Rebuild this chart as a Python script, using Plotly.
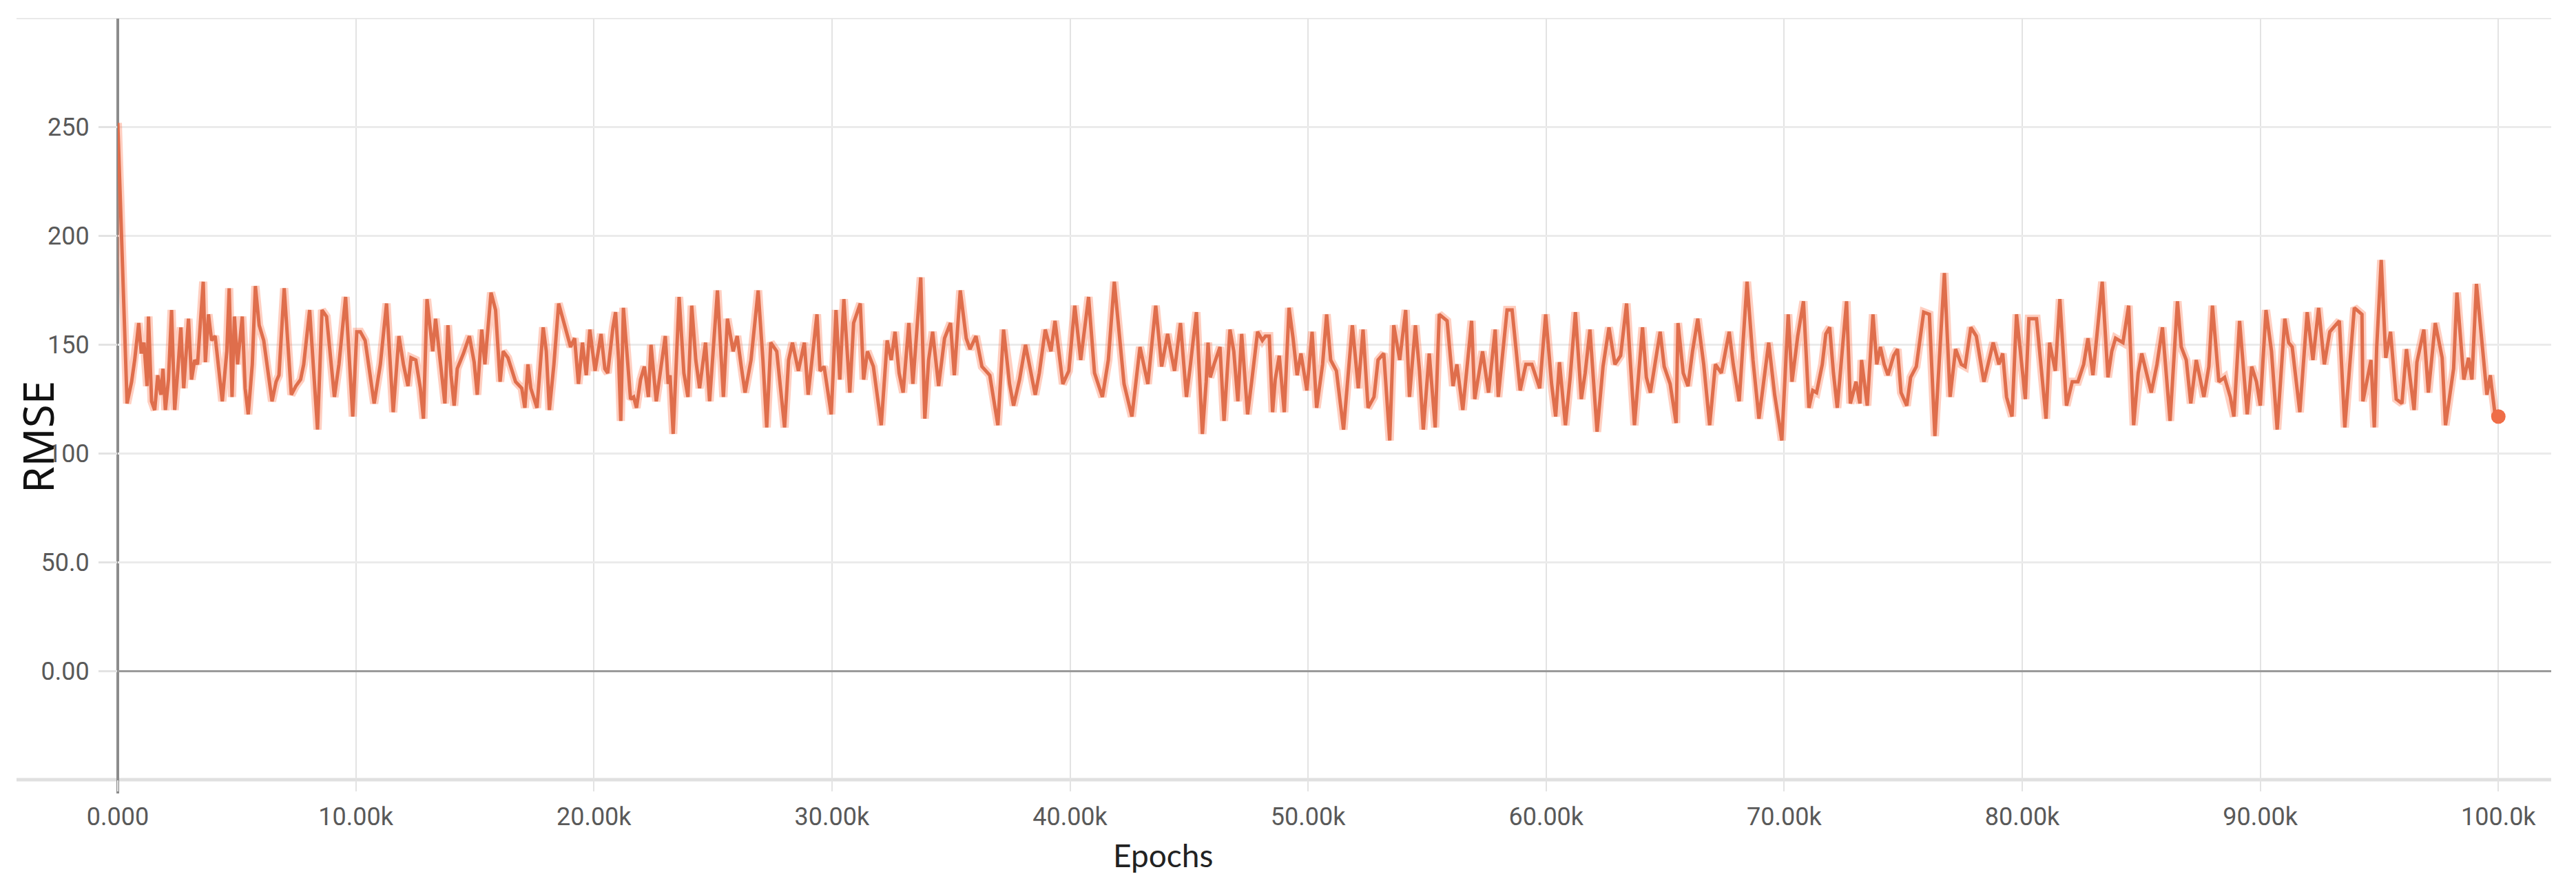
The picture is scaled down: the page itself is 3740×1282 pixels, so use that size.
import plotly.graph_objects as go

# epochs in thousands
epoch_k = [
    0.00, 0.39, 0.58, 0.71, 0.88, 0.99, 1.10, 1.23, 1.29, 1.42,
    1.55, 1.68, 1.81, 1.90, 2.00, 2.13, 2.26, 2.39, 2.52, 2.65,
    2.77, 2.97, 3.10, 3.23, 3.35, 3.59, 3.68, 3.81, 3.94, 4.09,
    4.39, 4.58, 4.68, 4.80, 4.90, 5.03, 5.23, 5.35, 5.48, 5.65,
    5.78, 5.94, 6.13, 6.26, 6.48, 6.65, 6.77, 6.99, 7.16, 7.29,
    7.48, 7.68, 7.81, 8.06, 8.39, 8.58, 8.77, 8.97, 9.10, 9.29,
    9.57, 9.74, 9.87, 10.04, 10.19, 10.39, 10.77, 11.03, 11.29, 11.57,
    11.81, 12.00, 12.19, 12.32, 12.52, 12.71, 12.84, 12.99, 13.23, 13.35,
    13.55, 13.74, 13.87, 14.00, 14.13, 14.26, 14.52, 14.77, 14.97, 15.10,
    15.29, 15.42, 15.68, 15.87, 16.06, 16.19, 16.39, 16.58, 16.71, 16.97,
    17.10, 17.23, 17.35, 17.61, 17.87, 18.00, 18.13, 18.32, 18.52,
    19.02, 19.19, 19.35, 19.52, 19.68, 19.83, 20.05, 20.30, 20.46, 20.58,
    20.80, 20.91, 21.04, 21.13, 21.24, 21.41, 21.54, 21.67, 21.79, 21.96,
    22.12, 22.29, 22.40, 22.62, 22.84, 23.00, 23.12, 23.20, 23.33, 23.58,
    23.78, 23.95, 24.11, 24.28, 24.44, 24.69, 24.86, 25.19, 25.44, 25.61,
    25.85, 26.02, 26.19, 26.35, 26.60, 26.90, 27.10, 27.26, 27.43, 27.68,
    28.01, 28.18, 28.34, 28.59, 28.84, 29.00, 29.37, 29.50, 29.67, 29.97,
    30.17, 30.33, 30.50, 30.75, 30.91, 31.19, 31.33, 31.49, 31.74, 32.07,
    32.32, 32.49, 32.65, 32.82, 32.99, 33.23, 33.40, 33.73, 33.90, 34.06,
    34.23, 34.48, 34.73, 34.98, 35.14, 35.39, 35.64, 35.80, 36.05, 36.30,
    36.63, 36.97, 37.21, 37.46, 37.63, 37.88, 38.13, 38.54, 38.71, 38.96,
    39.20, 39.37, 39.70, 39.95, 40.20, 40.45, 40.78, 41.03, 41.36, 41.61,
    41.86, 42.27, 42.60, 42.94, 43.27, 43.60, 43.85, 44.10,
    44.23, 44.39, 44.64, 44.89, 45.06, 45.31, 45.56, 45.72, 45.80, 45.89,
    46.05, 46.30, 46.47, 46.72, 46.88, 47.05, 47.21, 47.46, 47.63, 47.88,
    48.08, 48.21, 48.37, 48.51, 48.62, 48.79, 49.00, 49.20, 49.37, 49.54,
    49.70, 49.95, 50.17, 50.36, 50.61, 50.78, 50.95, 51.19, 51.49, 51.86,
    52.11, 52.31, 52.52, 52.77, 52.94, 53.18, 53.43, 53.60, 53.85, 54.10,
    54.26, 54.51, 54.68, 54.84, 55.09, 55.34, 55.51, 55.84, 56.09, 56.25,
    56.50, 56.87, 57.00, 57.33, 57.58, 57.86, 57.99, 58.36, 58.57, 58.91,
    59.15, 59.40, 59.73, 59.98, 60.23, 60.40, 60.56, 60.81, 61.01, 61.23,
    61.48, 61.64, 61.84, 62.14, 62.39, 62.64, 62.89, 63.13, 63.38, 63.71,
    64.05, 64.21, 64.38, 64.59, 64.79, 64.96, 65.21, 65.46, 65.54, 65.76,
    65.96, 66.15, 66.37, 66.62, 66.87, 67.11, 67.36, 67.69, 67.86, 68.11,
    68.44, 68.69, 68.94, 69.35, 69.60, 69.90,
    70.17, 70.33, 70.57, 70.81, 71.04, 71.20, 71.36, 71.60, 71.75, 71.91,
    72.07, 72.23, 72.62, 72.78, 73.02, 73.18, 73.25, 73.49, 73.73, 73.89,
    74.04, 74.20, 74.36, 74.60, 74.76, 74.91, 75.15, 75.31, 75.55, 75.86,
    76.10, 76.33, 76.73, 76.97, 77.20, 77.44, 77.60, 77.84, 78.07, 78.39,
    78.63, 78.78, 79.02, 79.18, 79.34, 79.57, 79.76, 80.13, 80.28, 80.60,
    81.00, 81.15, 81.39, 81.58, 81.86, 82.10, 82.34, 82.58, 82.76, 82.97,
    83.36, 83.60, 83.76, 83.92, 84.23, 84.47, 84.68, 84.87, 85.02, 85.42,
    85.66, 85.89, 86.21, 86.52, 86.68, 86.89, 87.08, 87.31, 87.63, 87.84,
    87.99, 88.26, 88.50, 88.74, 88.89, 89.13, 89.45, 89.64, 89.84, 90.00,
    90.24, 90.47, 90.71, 91.03, 91.19, 91.34, 91.66, 91.97, 92.21, 92.45,
    92.69, 92.92, 93.32, 93.55, 93.95, 94.27,
    94.31, 94.65, 94.79, 94.89, 95.08, 95.27, 95.47, 95.71, 95.95, 96.14,
    96.46, 96.58, 96.87, 97.06, 97.35, 97.64, 97.78, 98.12, 98.26, 98.55,
    98.75, 98.89, 99.08, 99.52, 99.66, 99.86, 100.0,
]
rmse = [
    252, 123, 133, 143, 160, 146, 151, 131, 163, 124,
    120, 136, 127, 139, 120, 134, 166, 120, 138, 158,
    130, 162, 134, 143, 141, 179, 142, 164, 152, 154,
    124, 147, 176, 126, 163, 141, 163, 130, 118, 141,
    177, 159, 152, 141, 124, 133, 136, 176, 147, 127,
    131, 134, 141, 166, 111, 166, 163, 141, 126, 141,
    172, 141, 117, 156, 156, 152, 123, 141, 169, 119,
    154, 141, 131, 144, 143, 130, 116, 171, 147, 162,
    141, 123, 159, 136, 122, 139, 146, 154, 142, 127,
    157, 141, 174, 166, 133, 147, 144, 137, 133, 130,
    121, 141, 130, 121, 158, 147, 120, 141, 169,
    149, 153, 132, 151, 136, 157, 138, 155, 139, 137,
    158, 165, 143, 115, 167, 145, 125, 126, 121, 134,
    140, 126, 150, 124, 143, 154, 132, 136, 109, 172,
    137, 126, 168, 143, 130, 151, 124, 175, 126, 162,
    147, 154, 140, 128, 143, 175, 143, 112, 151, 147,
    112, 143, 151, 138, 151, 127, 164, 138, 140, 118,
    166, 134, 171, 128, 160, 169, 134, 147, 140, 113,
    152, 143, 156, 137, 128, 160, 132, 181, 116, 143,
    156, 131, 153, 160, 136, 175, 153, 148, 154, 140,
    136, 113, 157, 132, 122, 134, 150, 127, 137, 157,
    147, 161, 132, 138, 168, 143, 172, 137, 126, 143,
    179, 132, 117, 149, 132, 168, 140, 155,
    147, 138, 160, 126, 141, 165, 109, 133, 151, 135,
    141, 149, 115, 157, 147, 124, 155, 118, 133, 156,
    152, 154, 154, 119, 134, 145, 119, 167, 153, 136,
    146, 129, 156, 121, 141, 164, 143, 138, 111, 159,
    130, 157, 121, 126, 143, 146, 106, 159, 143, 166,
    126, 159, 138, 111, 146, 112, 164, 161, 131, 141,
    120, 161, 125, 147, 128, 157, 126, 166, 166, 129,
    141, 141, 130, 164, 132, 117, 142, 113, 135, 165,
    125, 137, 157, 110, 140, 158, 141, 145, 169, 113,
    158, 135, 128, 143, 156, 140, 132, 114, 160, 137,
    131, 147, 162, 141, 113, 141, 137, 156, 141, 124,
    179, 143, 116, 151, 127, 106,
    164, 133, 154, 170, 121, 129, 128, 141, 155, 158,
    137, 121, 170, 123, 133, 123, 143, 122, 164, 141,
    149, 141, 136, 145, 148, 128, 122, 135, 140, 165,
    164, 108, 183, 126, 148, 141, 140, 158, 154, 133,
    145, 151, 141, 146, 126, 117, 164, 125, 162, 162,
    116, 151, 138, 171, 122, 133, 133, 141, 153, 136,
    179, 135, 147, 153, 151, 168, 113, 137, 146, 128,
    141, 158, 115, 170, 149, 143, 123, 143, 126, 140,
    168, 133, 135, 126, 117, 161, 118, 140, 133, 122,
    166, 147, 111, 162, 151, 149, 119, 165, 143, 167,
    141, 156, 161, 112, 167, 164,
    124, 143, 112, 149, 189, 144, 156, 125, 123, 148,
    120, 142, 157, 128, 160, 144, 113, 139, 174, 134,
    144, 134, 178, 127, 136, 118, 117,
]
assert len(epoch_k) == len(rmse)

x_ticks = [0, 10, 20, 30, 40, 50, 60, 70, 80, 90, 100]
x_labels = ["0.000", "10.00k", "20.00k", "30.00k", "40.00k", "50.00k",
            "60.00k", "70.00k", "80.00k", "90.00k", "100.0k"]
y_ticks = [0, 50, 100, 150, 200, 250]
y_labels = ["0.00", "50.0", "100", "150", "200", "250"]

W, H = 3740, 1282
L, R, T, B = 163, 44, 19, 158
pw = W - L - R
ph = H - T - B
tick_font = dict(family="Roboto, Noto Sans", size=36, color="#595959")

fig = go.Figure()
# soft halo under the line
fig.add_trace(go.Scatter(x=epoch_k, y=rmse, mode="lines",
                         line=dict(color="rgba(255,118,78,0.35)", width=12),
                         hoverinfo="skip", showlegend=False))
fig.add_trace(go.Scatter(x=epoch_k, y=rmse, mode="lines",
                         line=dict(color="#df6e4c", width=5),
                         showlegend=False))
fig.add_trace(go.Scatter(x=[epoch_k[-1]], y=[rmse[-1]], mode="markers",
                         marker=dict(color="#ef6d47", size=21),
                         showlegend=False))

left_edge = (16 - L) / pw
shapes = [
    # top frame
    dict(type="line", xref="paper", yref="paper", x0=left_edge, x1=1, y0=1, y1=1,
         line=dict(color="#e9e9e9", width=2), layer="below"),
    # bottom frame
    dict(type="line", xref="paper", yref="paper", x0=left_edge, x1=1, y0=0, y1=0,
         line=dict(color="#e0e0e0", width=5), layer="below"),
    # x = 0 axis line
    dict(type="line", xref="paper", yref="paper", x0=0, x1=0, y0=-0.018, y1=1,
         line=dict(color="#8c8c8c", width=4), layer="below"),
]

fig.update_layout(
    width=W, height=H,
    margin=dict(l=L, r=R, t=T, b=B),
    plot_bgcolor="white", paper_bgcolor="white",
    shapes=shapes,
    annotations=[
        dict(text="RMSE", xref="paper", yref="paper", x=(46 - L) / pw, y=(H - B - 627) / ph,
             textangle=-90, showarrow=False, xanchor="center", yanchor="middle",
             font=dict(family="Noto Sans, Open Sans", size=62, color="#111111")),
        dict(text="Epochs", xref="paper", yref="paper", x=(1680 - L) / pw, y=(H - B - 1233) / ph,
             showarrow=False, xanchor="center", yanchor="middle",
             font=dict(family="Lato, Noto Sans", size=46, color="#222222")),
    ],
)
fig.update_xaxes(
    range=[0, 102.22], tickvals=x_ticks, ticktext=x_labels,
    showgrid=True, gridcolor="#e3e3e3", gridwidth=2,
    zeroline=False, showline=False,
    ticks="outside", ticklen=16, tickcolor="#e3e3e3", tickwidth=2,
    tickfont=tick_font, ticklabelstandoff=6,
)
fig.update_yaxes(
    range=[-50, 300], tickvals=y_ticks, ticktext=y_labels,
    showgrid=True, gridcolor="#ebebeb", gridwidth=3,
    zeroline=True, zerolinecolor="#9a9a9a", zerolinewidth=3,
    showline=False,
    ticks="outside", ticklen=27, tickcolor="#e3e3e3", tickwidth=3,
    tickfont=tick_font, ticklabelstandoff=6,
)

fig.write_html("out.html")
